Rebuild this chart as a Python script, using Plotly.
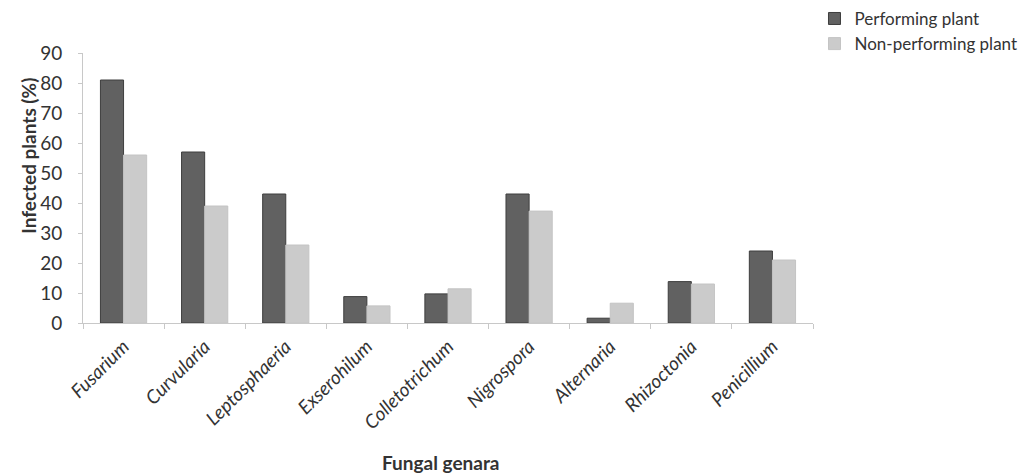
import plotly.graph_objects as go

genera = ["Fusarium", "Curvularia", "Leptosphaeria", "Exserohilum", "Colletotrichum",
          "Nigrospora", "Alternaria", "Rhizoctonia", "Penicillium"]
performing = [81, 57, 43, 8.8, 9.7, 43, 1.6, 13.8, 24]
non_performing = [56, 39, 26, 5.7, 11.4, 37.3, 6.6, 13, 21]
y_ticks = [0, 10, 20, 30, 40, 50, 60, 70, 80, 90]

FONT = "Lato, Open Sans, sans-serif"

fig = go.Figure()
fig.add_trace(go.Bar(
    x=genera, y=performing, name="Performing plant",
    marker=dict(color="#616161", line=dict(color="#3e3e3e", width=1)),
    legendgroup="a",
))
fig.add_trace(go.Bar(
    x=genera, y=non_performing, name="Non-performing plant",
    marker=dict(color="#cbcbcb", line=dict(color="#c4c4c4", width=1)),
    legendgroup="b",
))

fig.update_layout(
    width=1031, height=474,
    margin=dict(l=83, r=218, t=53, b=151, autoexpand=False),
    paper_bgcolor="white", plot_bgcolor="white",
    barmode="group", bargap=0.43, bargroupgap=0,
    font=dict(family=FONT, color="#333333"),
    showlegend=True,
    legend=dict(
        xref="container", yref="container",
        x=0.79, y=0.998, xanchor="left", yanchor="top",
        font=dict(size=17, color="#333333", family=FONT),
        tracegroupgap=0, itemwidth=30,
    ),
    xaxis=dict(
        tickangle=-45,
        tickfont=dict(size=19, family=FONT, color="#333333", style="italic"),
        showline=True, linecolor="#c8c8c8", linewidth=1,
        ticks="outside", tickson="boundaries", ticklen=5, tickcolor="#c8c8c8",
        ticklabelstandoff=4,
        showgrid=False, automargin=False,
    ),
    yaxis=dict(
        range=[0, 90], tickvals=y_ticks,
        tickfont=dict(size=19, family=FONT, color="#333333"),
        showline=True, linecolor="#c8c8c8", linewidth=1,
        ticks="outside", ticklen=4, tickcolor="#c8c8c8",
        ticklabelstandoff=12,
        showgrid=False, zeroline=False, automargin=False,
    ),
    annotations=[
        dict(text="<b>Infected plants (%)</b>", textangle=-90,
             xref="paper", yref="paper", x=-0.075, y=0.62,
             xanchor="center", yanchor="middle", showarrow=False,
             font=dict(size=19, family=FONT, color="#333333")),
        dict(text="<b>Fungal genara</b>",
             xref="paper", yref="paper", x=0.49, y=-0.515,
             xanchor="center", yanchor="middle", showarrow=False,
             font=dict(size=19, family=FONT, color="#333333")),
    ],
)

fig.write_html(
    "out.html",
    config={"displayModeBar": False},
    post_script="document.body.style.margin='0';document.body.style.overflow='hidden';",
)
